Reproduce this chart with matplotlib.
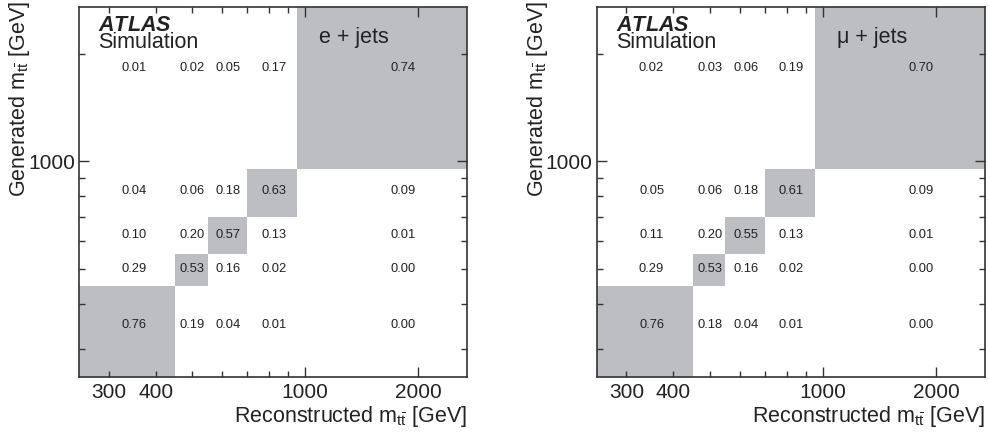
import numpy as np
import matplotlib
matplotlib.use("Agg")
import matplotlib.pyplot as plt
from matplotlib.colors import ListedColormap, BoundaryNorm
from matplotlib.ticker import FixedLocator, FuncFormatter, NullFormatter

plt.rcParams['font.family'] = ['Liberation Sans', 'DejaVu Sans']
plt.rcParams['mathtext.fontset'] = 'custom'
plt.rcParams['mathtext.rm'] = 'Liberation Sans'
plt.rcParams['mathtext.it'] = 'Liberation Sans:italic'
plt.rcParams['mathtext.bf'] = 'Liberation Sans:bold'
plt.rcParams['mathtext.bfit'] = 'Liberation Sans:italic:bold'

# Bin edges [GeV] (reconstructed = generated binning)
edges = [250, 450, 550, 700, 950, 2700]

# Migration matrices: rows = generated bins (low -> high), columns = reconstructed bins
ejets = [
    [0.76, 0.19, 0.04, 0.01, 0.00],
    [0.29, 0.53, 0.16, 0.02, 0.00],
    [0.10, 0.20, 0.57, 0.13, 0.01],
    [0.04, 0.06, 0.18, 0.63, 0.09],
    [0.01, 0.02, 0.05, 0.17, 0.74],
]
mujets = [
    [0.76, 0.18, 0.04, 0.01, 0.00],
    [0.29, 0.53, 0.16, 0.02, 0.00],
    [0.11, 0.20, 0.55, 0.13, 0.01],
    [0.05, 0.06, 0.18, 0.61, 0.09],
    [0.02, 0.03, 0.06, 0.19, 0.70],
]
channels = ["e + jets", "\u03bc + jets"]

x_major = [1000, 2000]
x_minor = [300, 400, 500, 600, 700, 800, 900]
x_minor_labels = [300, 400]
y_major = [1000]
y_minor = [300, 400, 500, 600, 700, 800, 900, 2000]

GRAY = "#bdbec2"
TXT = "#222222"
cmap = ListedColormap(["white", GRAY])
norm = BoundaryNorm([0, 0.5, 1.01], 2)

BIG = 15.5
fig = plt.figure(figsize=(9.89, 4.43), dpi=100)
W, H = 989, 443
axes_px = [(79, 7, 388, 370), (596.7, 7, 388.3, 370)]

for (l, t, w, h), mat, chan in zip(axes_px, [ejets, mujets], channels):
    ax = fig.add_axes([l / W, 1 - (t + h) / H, w / W, h / H])
    m = np.array(mat)
    e = np.array(edges, dtype=float)
    ax.pcolormesh(e, e, m, cmap=cmap, norm=norm, shading='flat')
    ax.set_xscale('log')
    ax.set_yscale('log')
    ax.set_xlim(edges[0], edges[-1])
    ax.set_ylim(edges[0], edges[-1])
    cx = 0.5 * (e[:-1] + e[1:])
    for i in range(len(cx)):
        for j in range(len(cx)):
            ax.text(cx[j], cx[i], f"{m[i, j]:.2f}", ha='center', va='center',
                    fontsize=9.3, color=TXT)
    ax.xaxis.set_major_locator(FixedLocator(x_major))
    ax.xaxis.set_minor_locator(FixedLocator(x_minor))
    ax.xaxis.set_major_formatter(FuncFormatter(lambda v, p: f"{v:.0f}"))
    ax.xaxis.set_minor_formatter(FuncFormatter(
        lambda v, p: f"{v:.0f}" if round(v) in x_minor_labels else ""))
    ax.yaxis.set_major_locator(FixedLocator(y_major))
    ax.yaxis.set_minor_locator(FixedLocator(y_minor))
    ax.yaxis.set_major_formatter(FuncFormatter(lambda v, p: f"{v:.0f}"))
    ax.yaxis.set_minor_formatter(NullFormatter())
    ax.tick_params(which='both', direction='in', top=True, right=True,
                   color='#333333', labelcolor=TXT, labelsize=15, width=1.0)
    ax.tick_params(which='major', length=7.5)
    ax.tick_params(which='minor', length=4)
    ax.tick_params(axis='x', which='both', pad=4)
    ax.tick_params(axis='y', which='both', pad=3)
    for s in ax.spines.values():
        s.set_color('#333333')
        s.set_linewidth(1.2)
    ax.text(0.049, 0.978, "$\\mathbfit{ATLAS}$\nSimulation", transform=ax.transAxes,
            fontsize=BIG, va='top', ha='left', color=TXT, linespacing=0.74)
    ax.text(0.619, 0.903, chan, transform=ax.transAxes, fontsize=BIG,
            va='baseline', ha='left', color=TXT)
    ax.text(1.0, -0.122, r"Reconstructed m$_{\mathrm{t\bar{t}}}$ [GeV]",
            transform=ax.transAxes, fontsize=BIG, ha='right', va='baseline', color=TXT)
    ax.text(-0.139, 1.016, r"Generated m$_{\mathrm{t\bar{t}}}$ [GeV]",
            transform=ax.transAxes, fontsize=BIG, ha='right', va='baseline',
            rotation=90, rotation_mode='anchor', color=TXT)

fig.savefig("out.png", dpi=100)
